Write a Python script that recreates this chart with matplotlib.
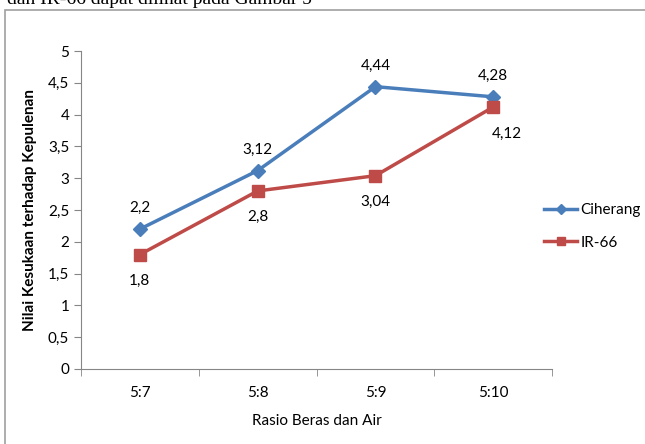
import matplotlib.pyplot as plt
from matplotlib.patches import Rectangle

plt.rcParams['font.family'] = ['Lato', 'DejaVu Sans']

kategori = ['5:7', '5:8', '5:9', '5:10']
ciherang = [2.2, 3.12, 4.44, 4.28]
ir66 = [1.8, 2.8, 3.04, 4.12]
label_ciherang = ['2,2', '3,12', '4,44', '4,28']
label_ir66 = ['1,8', '2,8', '3,04', '4,12']
yticks = [0, 0.5, 1, 1.5, 2, 2.5, 3, 3.5, 4, 4.5, 5]
ytick_labels = ['0', '0,5', '1', '1,5', '2', '2,5', '3', '3,5', '4', '4,5', '5']

fig = plt.figure(figsize=(6.45, 4.44), dpi=100)
ax = fig.add_axes([0.1256, 0.169, 0.7304, 0.716])

# frame around chart
fig.patches.append(Rectangle((5/645, -0.1), 1.2, 1 - 10/444 + 0.1, transform=fig.transFigure,
                             fill=False, edgecolor='#a0a0a0', linewidth=1.2))
fig.text(7/645, 1.0, 'dan IR-66 dapat dilihat pada Gambar 5', family='Liberation Serif',
         fontsize=14, va='center', ha='left')

x = range(len(kategori))
ax.plot(x, ciherang, color='#4a7ebb', marker='D', markersize=7, linewidth=2.5, label='Ciherang')
ax.plot(x, ir66, color='#be4b48', marker='s', markersize=8, linewidth=2.5, label='IR-66')

for i in x:
    ax.annotate(label_ciherang[i], (i, ciherang[i]), xytext=(0, 10), textcoords='offset points',
                ha='center', va='bottom', fontsize=11)
    dx = 10 if i == 3 else 0
    ax.annotate(label_ir66[i], (i, ir66[i]), xytext=(dx, -14), textcoords='offset points',
                ha='center', va='top', fontsize=11)

ax.set_xlim(-0.5, 3.5)
ax.set_ylim(0, 5)
ax.set_yticks(yticks)
ax.set_yticklabels(ytick_labels, fontsize=11)
ax.set_xticks(list(x))
ax.set_xticklabels(kategori, fontsize=11)
ax.tick_params(axis='x', length=0, pad=12)
ax.set_xticks([-0.5, 0.5, 1.5, 2.5, 3.5], minor=True)
ax.tick_params(axis='x', which='minor', length=5, color='#868686')
ax.tick_params(axis='y', length=5, color='#868686')
for s in ['top', 'right']:
    ax.spines[s].set_visible(False)
for s in ['left', 'bottom']:
    ax.spines[s].set_color('#868686')

ax.set_xlabel('Rasio Beras dan Air', fontsize=11, labelpad=10)
ax.set_ylabel('Nilai Kesukaan terhadap Kepulenan', fontsize=11, fontweight='bold', labelpad=8)

ax.legend(loc='center left', bbox_to_anchor=(530/645, 0.49), bbox_transform=fig.transFigure,
          frameon=False, fontsize=11, handlelength=2.2, labelspacing=1.2, handletextpad=0.2,
          markerscale=0.8)

fig.savefig('out.png', dpi=100)
